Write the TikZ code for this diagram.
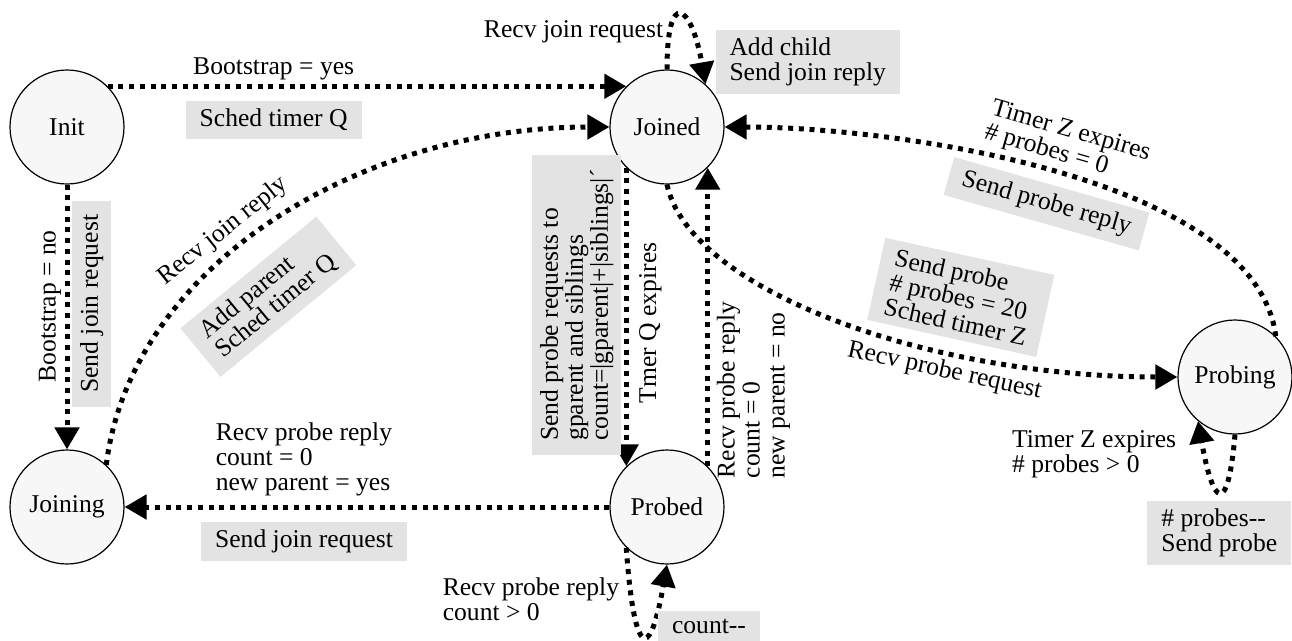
\documentclass[tikz,border=0pt]{standalone}
\usepackage{fontspec}
\setmainfont{Liberation Serif}
\usetikzlibrary{arrows.meta,automata,positioning}
\definecolor{actgray}{RGB}{227,227,227}
\definecolor{statefill}{RGB}{247,247,247}

\begin{document}
\begin{tikzpicture}[x=1pt,y=-1pt,>={Triangle[length=22pt,width=24pt]},node distance=600pt,
    every node/.style={font=\fontsize{25.6}{25}\selectfont},
    every state/.style={draw,line width=1.2pt,fill=statefill,minimum size=114pt,inner sep=0pt},
    tr/.style={->,line width=5pt,dash pattern=on 5pt off 5.7pt},
    lbl/.style={inner sep=2pt},
    act/.style={fill=actgray,inner xsep=14pt,inner ysep=8pt}]
    \useasboundingbox (0,0) rectangle (1292,640);

    \node[state] (init) at (67,127) {Init};
    \node[state] (joined) [right of=init] {Joined};
    \node[state] (joining) [below of=init,node distance=380pt] {Joining};
    \node[state] (probed) [right of=joining] {Probed};
    \node[state] (probing) at (1235,377) {Probing};

    \path[tr] (init.45) edge node[pos=.32,above=2pt,lbl] {Bootstrap = yes}
        node[pos=.32,below=12pt,act] {Sched timer Q} (joined.135);
    \path[tr] (init.-90) edge node[pos=.46,rotate=90,anchor=south,lbl,outer sep=4pt] {Bootstrap = no}
        node[pos=.45,rotate=90,anchor=north,act,outer sep=5pt] {Send join request} (joining.90);
    \path[tr] (joining.47) edge[out=83,in=180,out distance=200pt,in distance=250pt]
        node[pos=.43,sloped,above=5pt,lbl] {Recv join reply}
        node[pos=.42,sloped,below=24pt,act,align=left] {Add parent\\Sched timer Q} (joined.180);
    \path[tr] (joined.90) edge[out=90,in=100,distance=82pt]
        node[pos=.2,left=2pt,lbl] {Recv join request}
        node[pos=.9,right=12pt,act,align=left] {Add child\\Send join reply} (joined.48);
    \path[tr] (joined.225) edge
        node[pos=.46,rotate=90,anchor=south,act,align=left,outer sep=5pt] {Send probe requests to\\gparent and siblings\\count=|gparent|+|siblings|´}
        node[pos=.52,rotate=90,anchor=north,lbl,outer sep=11pt] {Tmer Q expires} (probed.135);
    \path[tr] (probed.45) edge
        node[pos=-.07,rotate=90,anchor=north west,lbl,align=left,outer sep=7pt] {Recv probe reply\\count = 0\\new parent = no} (joined.-45);
    \path[tr] (joined.-90) edge[out=-78,in=180,out distance=108pt,in distance=248pt]
        node[pos=.68,sloped,above=12pt,act,align=left] {Send probe\\\# probes = 20\\Sched timer Z}
        node[pos=.68,sloped,below=3pt,lbl] {Recv probe request} (probing.180);
    \path[tr] (probing.45) edge[out=97,in=0,out distance=158pt,in distance=176pt]
        node[pos=.5,sloped,above=2pt,lbl,align=left] {Timer Z expires\\\# probes = 0}
        node[pos=.505,sloped,below=11pt,act] {Send probe reply} (joined.0);
    \path[tr] (probing.-90) edge[out=-95,in=-80,distance=85pt]
        node[pos=.85,left=24pt,lbl,align=left] {Timer Z expires\\\# probes > 0}
        node[pos=.5,below=7pt,act,align=left] {\# probes-{}-\\Send probe} (probing.-130);
    \path[tr] (probed.180) edge node[pos=.63,above=6pt,lbl,align=left] {Recv probe reply\\count = 0\\new parent = yes}
        node[pos=.63,below=12pt,act] {Send join request} (joining.0);
    \path[tr] (probed.225) edge[out=-86,in=-100,distance=105pt]
        node[pos=.2,left=8pt,lbl,align=left] {Recv probe reply\\count > 0}
        node[pos=.7,right=4pt,act] {count-{}-} (probed.-90);
\end{tikzpicture}
\end{document}
